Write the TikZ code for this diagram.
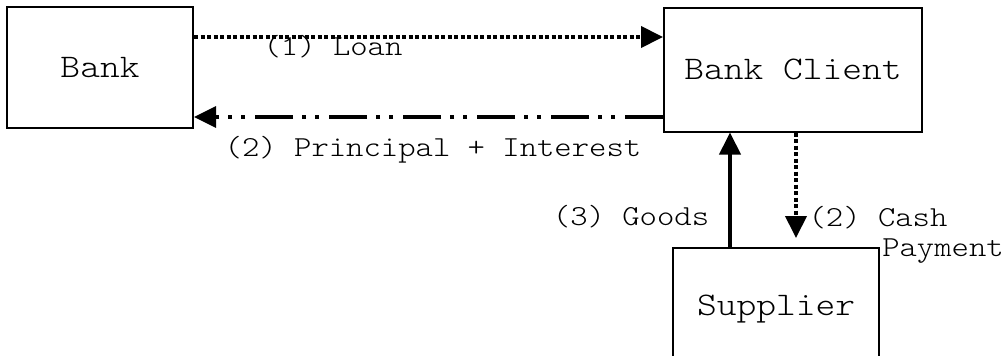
\documentclass[tikz,border=0pt]{standalone}
\usepackage{fontspec}
\newfontfamily\typewriter[FakeStretch=1.14]{Latin Modern Mono Light}
\usetikzlibrary{arrows.meta}

\tikzset{
  party/.style={draw, line width=2pt, inner sep=0pt,
    font=\typewriter\fontsize{33}{36}\selectfont},
  lbl/.style={inner sep=0pt, anchor=base, font=\typewriter\fontsize{29}{32}\selectfont},
  bigtip/.style={-{Triangle[length=22pt,width=21pt]}},
  dotline/.style={bigtip, line width=4pt, dash pattern=on 4pt off 2.5pt},
  dashdotdot/.style={bigtip, line width=3.5pt,
    dash pattern=on 38pt off 10pt on 4pt off 9pt on 4pt off 9pt},
  solidline/.style={bigtip, line width=4pt}
}

\begin{document}
\begin{tikzpicture}[x=1pt,y=-1pt]
  \clip (0,0) rectangle (1007,356);
  \fill[white] (0,0) rectangle (1007,356);

  % parties
  \node[party, minimum width=186pt, minimum height=121pt] (bank) at (100,67.5) {Bank};
  \node[party, minimum width=258pt, minimum height=124pt] (client) at (793,69.5) {Bank Client};
  \node[party, minimum width=206pt, minimum height=118pt, anchor=north] (supplier) at (776,247) {};
  \node[inner sep=0pt, anchor=base, font=\typewriter\fontsize{33}{36}\selectfont] (suptext) at (776,315) {Supplier};

  % flows between bank and client
  \draw[dotline] ([yshift=30.5pt]bank.east) -- ([yshift=30.5pt]bank.east -| client.west);
  \draw[dashdotdot] ([yshift=-49.5pt]bank.east -| client.west) -- ([yshift=-49.5pt]bank.east);

  % flows between client and supplier
  \draw[solidline] ([xshift=-46pt]supplier.north) -- ([xshift=-46pt]supplier.north |- client.south);
  \draw[dotline, shorten >=9pt] ([xshift=3pt]client.south) -- ([xshift=3pt]client.south |- supplier.north);

  % labels
  \node[lbl] (l1) at (333,55) {(1) Loan};
  \node[lbl] (l2) at (433,156) {(2) Principal + Interest};
  \node[lbl] (l3) at (631,225) {(3) Goods};
  \node[lbl] (l4) at (878,226) {(2) Cash};
  \node[lbl] (l5) at (943,256) {Payment};
\end{tikzpicture}
\end{document}
